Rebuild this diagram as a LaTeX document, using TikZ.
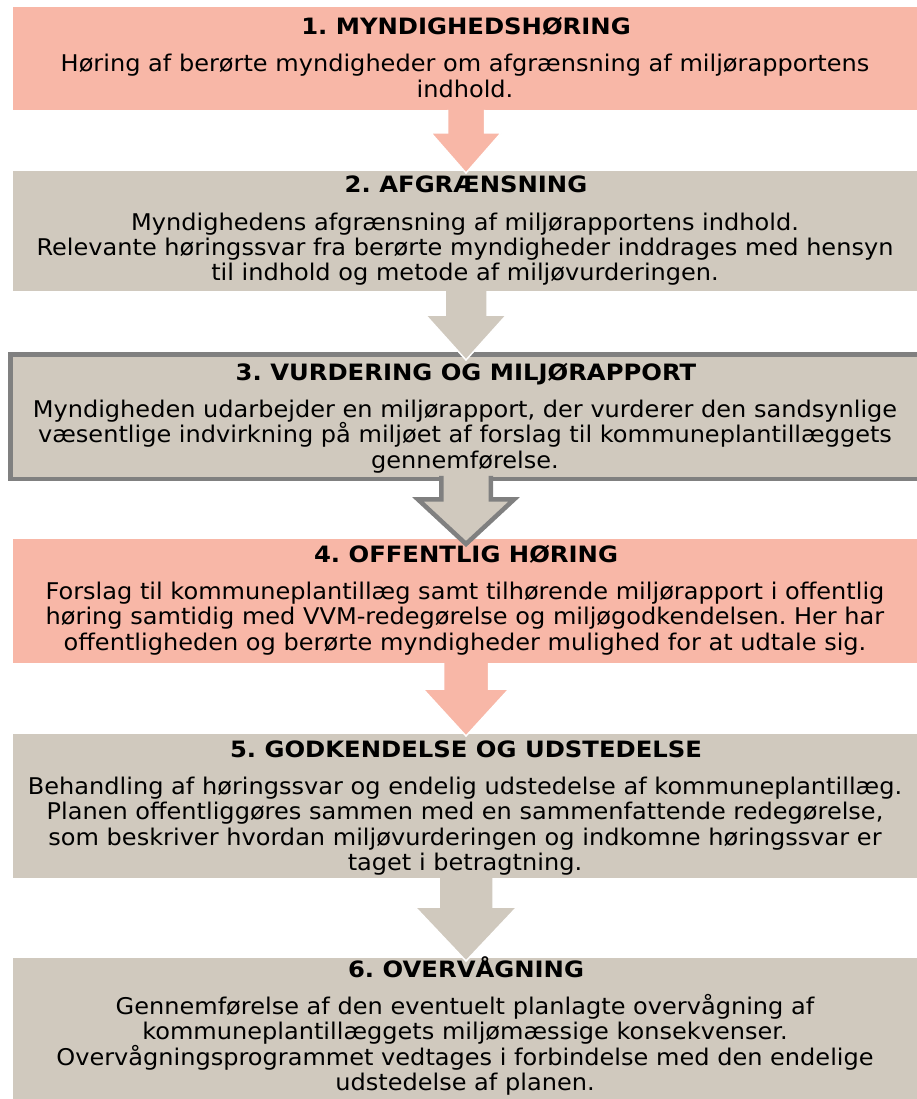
\documentclass[tikz,border=0pt]{standalone}
\usepackage{fontspec}
\setmainfont{DejaVu Sans}[FakeStretch=1.045]
\newfontfamily\titlef{DejaVu Sans}[FakeStretch=1.08]
\usetikzlibrary{calc}
\frenchspacing
\definecolor{stagepink}{RGB}{248,183,167}
\definecolor{stagetan}{RGB}{208,201,190}
\definecolor{stagegray}{RGB}{128,128,128}
\tikzset{
  stagebox/.style={rectangle, inner sep=0pt, outer sep=0pt, minimum width=906pt},
  pinkbox/.style={stagebox, fill=stagepink},
  tanbox/.style={stagebox, fill=stagetan},
  framedbox/.style={stagebox, fill=stagetan, draw=stagegray, line width=4.5pt, minimum width=911pt},
  titletext/.style={anchor=base, inner sep=0pt, font={\titlef\bfseries\fontsize{22.5}{27}\selectfont}},
  bodytext/.style={anchor=base, inner sep=0pt, text width=910pt, align=center, font={\fontsize{23}{25.5}\selectfont}},
  pinkarrow/.style={fill=stagepink, draw=white, line width=1.5pt, line join=miter},
  tanarrow/.style={fill=stagetan, draw=white, line width=1.5pt, line join=miter},
  framedarrow/.style={fill=stagetan, draw=stagegray, line width=4.5pt, line join=miter},
}
% #1 style, #2 from box, #3 to box, #4 start offset into from box, #5 stem half width,
% #6 head half width, #7 stem length below from box, #8 tip overlap into to box
\newcommand{\stagearrow}[8]{%
  \filldraw[#1] ($(#2.south)+(-#5,-#4)$) -- ($(#2.south)+(-#5,#7)$) -- ($(#2.south)+(-#6,#7)$)
    -- ($(#3.north)+(0,#8)$) -- ($(#2.south)+(#6,#7)$) -- ($(#2.south)+(#5,#7)$) -- ($(#2.south)+(#5,-#4)$);
}
\begin{document}
\begin{tikzpicture}[x=1pt, y=-1pt]
\useasboundingbox (0,0) rectangle (917,1099);
\clip (0,0) rectangle (917,1099);

% boxes
\node[pinkbox, minimum height=103pt] (b1) at (466,58.5) {};
\node[tanbox, minimum height=120pt] (b2) at (466,231) {};
\node[framedbox, minimum height=124.5pt] (b3) at (466,416.5) {};
\node[pinkbox, minimum height=124pt] (b4) at (466,601) {};
\node[tanbox, minimum height=144pt] (b5) at (466,806) {};
\node[tanbox, minimum height=147pt] (b6) at (466,1031.5) {};

% arrows
\stagearrow{pinkarrow}{b1}{b2}{0}{18.5}{35}{23}{2}
\stagearrow{tanarrow}{b2}{b3}{0}{21}{40.5}{24}{5.75}
\stagearrow{framedarrow}{b3}{b4}{3}{24.75}{48.25}{20.5}{5}
\stagearrow{pinkarrow}{b4}{b5}{0}{22.5}{43}{26}{2}
\stagearrow{tanarrow}{b5}{b6}{0}{27}{51}{29}{3}

% texts
\node[titletext] (t1) at (466,35) {1. MYNDIGHEDSHØRING};
\node[bodytext] (d1) at (465,72) {Høring af berørte myndigheder om afgrænsning af miljørapportens\\indhold.};

\node[titletext] (t2) at (466,193) {2. AFGRÆNSNING};
\node[bodytext] (d2) at (465,230) {Myndighedens afgrænsning af miljørapportens indhold.\\Relevante høringssvar fra berørte myndigheder inddrages med hensyn\\til indhold og metode af miljøvurderingen.};

\node[titletext] (t3) at (466,380) {3. VURDERING OG MILJØRAPPORT};
\node[bodytext] (d3) at (465,417) {Myndigheden udarbejder en miljørapport, der vurderer den sandsynlige\\væsentlige indvirkning på miljøet af forslag til kommuneplantillæggets\\gennemførelse.};

\node[titletext] (t4) at (466,562) {4. OFFENTLIG HØRING};
\node[bodytext] (d4) at (465,599) {Forslag til kommuneplantillæg samt tilhørende miljørapport i offentlig\\høring samtidig med VVM-redegørelse og miljøgodkendelsen. Her har\\offentligheden og berørte myndigheder mulighed for at udtale sig.};

\node[titletext] (t5) at (466,757) {5. GODKENDELSE OG UDSTEDELSE};
\node[bodytext] (d5) at (465,794) {Behandling af høringssvar og endelig udstedelse af kommuneplantillæg.\\Planen offentliggøres sammen med en sammenfattende redegørelse,\\som beskriver hvordan miljøvurderingen og indkomne høringssvar er\\taget i betragtning.};

\node[titletext] (t6) at (466,977) {6. OVERVÅGNING};
\node[bodytext] (d6) at (465,1014) {Gennemførelse af den eventuelt planlagte overvågning af\\kommuneplantillæggets miljømæssige konsekvenser.\\Overvågningsprogrammet vedtages i forbindelse med den endelige\\udstedelse af planen.};
\end{tikzpicture}
\end{document}
